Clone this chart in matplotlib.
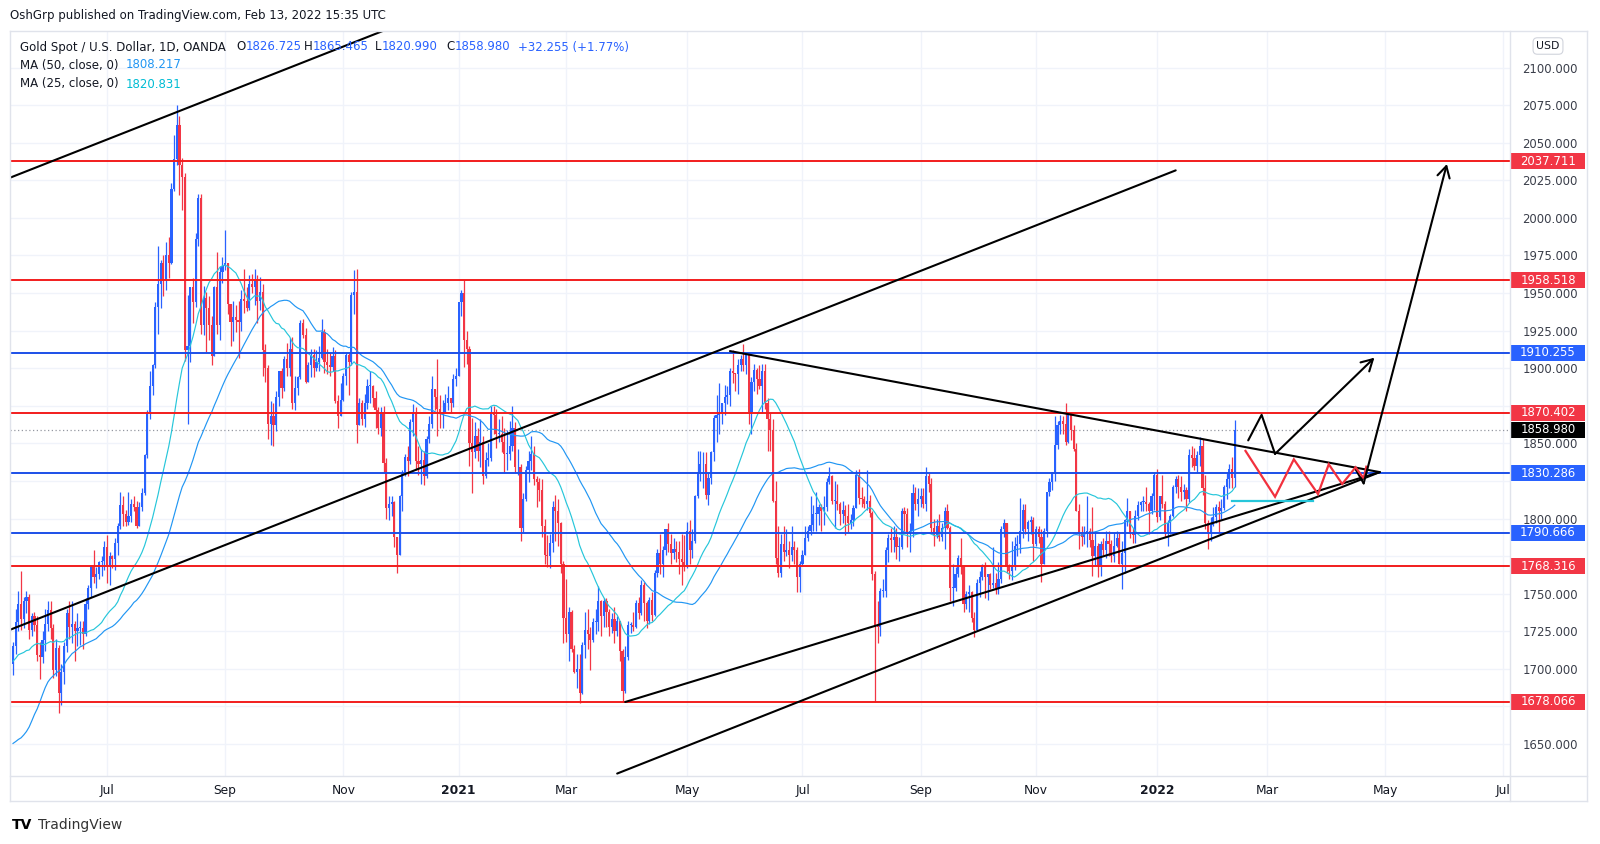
import numpy as np
import pandas as pd
import matplotlib
matplotlib.use('Agg')
import matplotlib.pyplot as plt
import matplotlib.transforms as mtransforms
from matplotlib.patches import Rectangle
from matplotlib.lines import Line2D

plt.rcParams['font.family'] = 'DejaVu Sans'

W, H = 1600, 844

# ============================================================
# Data: XAUUSD daily (OANDA), 2020-05-13 .. 2022-02-11
# open of each bar = previous close
# ============================================================
first_open = 1703.0

closes = [
    1715, 1731, 1743,
    1733, 1745, 1748, 1726, 1735,
    1729, 1709, 1708, 1719, 1730,
    1739, 1727, 1699, 1714, 1684,
    1698, 1715, 1737, 1728, 1730,
    1725, 1727, 1727, 1723, 1743,
    1754, 1768, 1761, 1763, 1771,
    1772, 1781, 1769, 1775, 1773,
    1784, 1795, 1809, 1803, 1798,
    1802, 1810, 1808, 1795, 1808,
    1817, 1842, 1871, 1888, 1902,
    1941, 1956, 1970, 1958, 1975,
    1970, 2019, 2039, 2062, 2035,
    2027, 1912, 1915, 1954, 1944,
    1986, 2013, 1929, 1947, 1940,
    1929, 1908, 1954, 1929, 1964,
    1968, 1970, 1943, 1931, 1934,
    1932, 1931, 1946, 1945, 1940,
    1956, 1954, 1959, 1945, 1951,
    1912, 1900, 1863, 1868, 1862,
    1881, 1898, 1887, 1906, 1900,
    1913, 1877, 1887, 1894, 1930,
    1922, 1891, 1902, 1909, 1900,
    1904, 1907, 1924, 1904, 1902,
    1901, 1908, 1878, 1868, 1879,
    1895, 1909, 1904, 1949, 1951,
    1862, 1877, 1866, 1877, 1888,
    1888, 1880, 1872, 1860, 1871,
    1837, 1807, 1810, 1811, 1788,
    1776, 1815, 1830, 1841, 1838,
    1864, 1871, 1838, 1836, 1839,
    1828, 1853, 1863, 1886, 1881,
    1873, 1870, 1871, 1877,
    1880, 1877, 1893, 1895,
    # 2021
    1944, 1950, 1919, 1913, 1850,
    1844, 1855, 1845, 1851, 1828,
    1839, 1840, 1871, 1869, 1856,
    1856, 1851, 1843, 1843, 1848,
    1860, 1834, 1834, 1794, 1813,
    1832, 1838, 1843, 1826, 1824,
    1819, 1795, 1776, 1775, 1784,
    1808, 1805, 1797, 1770, 1734,
    1723, 1738, 1713, 1698, 1700,
    1684, 1716, 1726, 1723, 1719,
    1731, 1731, 1745, 1735, 1745,
    1738, 1728, 1733, 1725, 1732,
    1712, 1685, 1708, 1729, 1729,
    1728, 1744, 1737, 1756, 1744,
    1732, 1746, 1736, 1764, 1777,
    1770, 1779, 1793, 1783, 1777,
    1780, 1778, 1773, 1771, 1769,
    1792, 1779, 1785, 1815, 1831,
    1836, 1836, 1816, 1827, 1844,
    1867, 1869, 1870, 1877, 1881,
    1882, 1898, 1897, 1896, 1902,
    1906, 1902, 1909, 1871, 1891,
    1899, 1893, 1888, 1898, 1877,
    1866, 1859, 1812, 1774, 1764,
    1783, 1778, 1779, 1776, 1781,
    1779, 1761, 1770, 1776, 1787,
    1792, 1796, 1803, 1803, 1808,
    1805, 1808, 1824, 1828, 1812,
    1812, 1810, 1803, 1806, 1802,
    1797, 1799, 1807, 1829, 1814,
    1813, 1810, 1812, 1804, 1763,
    1729, 1728, 1752, 1752, 1779,
    1787, 1786, 1788, 1781, 1781,
    1805, 1803, 1790, 1792, 1817,
    1810, 1813, 1815, 1810, 1828,
    1823, 1794, 1789, 1795, 1788,
    1794, 1805, 1794, 1754, 1754,
    1763, 1774, 1768, 1743, 1750,
    1751, 1734, 1726, 1757, 1761,
    1769, 1761, 1763, 1756, 1757,
    1754, 1760, 1793, 1797, 1768,
    1765, 1769, 1782, 1783, 1792,
    1806, 1793, 1798, 1799, 1783,
    1793, 1788, 1770, 1792, 1818,
    1824, 1831, 1849, 1862, 1865,
    1863, 1851, 1869, 1859, 1846,
    1805, 1790, 1788, 1790, 1792,
    1786, 1775, 1782, 1769, 1783,
    1779, 1785, 1783, 1775, 1782,
    1787, 1770, 1777, 1799, 1805,
    1790, 1789, 1802, 1809, 1811,
    1811, 1810, 1805, 1815, 1829,
    # 2022
    1801, 1815, 1810, 1791, 1797,
    1802, 1821, 1826, 1821, 1818,
    1819, 1813, 1842, 1840, 1835,
    1842, 1848, 1820, 1797, 1791,
    1796, 1801, 1808, 1805, 1807,
    1821, 1826, 1833, 1826.725, 1858.980,
]

highs = [
    1718, 1740, 1752,
    1765, 1748, 1752, 1750, 1737,
    1738, 1735, 1718, 1725, 1740,
    1745, 1745, 1730, 1720, 1716,
    1703, 1718, 1740, 1745, 1745,
    1732, 1737, 1732, 1732, 1747,
    1756, 1769, 1779, 1768, 1772,
    1775, 1785, 1789, 1778, 1776,
    1787, 1797, 1818, 1815, 1806,
    1818, 1813, 1815, 1812, 1811,
    1820, 1843, 1872, 1898, 1903,
    1944, 1981, 1972, 1975, 1984,
    1987, 2023, 2055, 2075, 2068,
    2040, 2030, 1949, 1954, 1960,
    1990, 2016, 2016, 1955, 1951,
    1948, 1935, 1955, 1977, 1968,
    1974, 1992, 1970, 1942, 1945,
    1942, 1945, 1952, 1966, 1954,
    1962, 1963, 1966, 1962, 1961,
    1956, 1916, 1902, 1878, 1877,
    1885, 1898, 1900, 1908, 1917,
    1920, 1921, 1895, 1895, 1932,
    1933, 1927, 1904, 1913, 1913,
    1912, 1915, 1933, 1926, 1913,
    1910, 1914, 1912, 1882, 1890,
    1897, 1911, 1911, 1951, 1965,
    1966, 1880, 1879, 1883, 1893,
    1898, 1889, 1885, 1874, 1874,
    1875, 1840, 1815, 1815, 1812,
    1788, 1816, 1832, 1843, 1848,
    1866, 1876, 1874, 1848, 1846,
    1845, 1855, 1868, 1895, 1886,
    1906, 1882, 1879, 1883,
    1888, 1880, 1896, 1900,
    # 2021
    1944, 1952, 1959, 1925, 1915,
    1867, 1864, 1860, 1866, 1855,
    1844, 1850, 1875, 1875, 1873,
    1866, 1868, 1860, 1859, 1865,
    1875, 1864, 1846, 1836, 1817,
    1835, 1845, 1855, 1848, 1828,
    1827, 1826, 1800, 1789, 1790,
    1812, 1816, 1813, 1798, 1772,
    1760, 1741, 1739, 1716, 1710,
    1710, 1718, 1738, 1740, 1728,
    1734, 1740, 1755, 1746, 1747,
    1747, 1740, 1737, 1741, 1735,
    1731, 1713, 1715, 1732, 1731,
    1738, 1746, 1748, 1759, 1758,
    1745, 1748, 1751, 1766, 1780,
    1790, 1782, 1793, 1797, 1790,
    1787, 1785, 1785, 1790, 1789,
    1798, 1799, 1793, 1816, 1845,
    1845, 1844, 1844, 1830, 1845,
    1869, 1882, 1890, 1877, 1889,
    1888, 1900, 1912, 1897, 1906,
    1909, 1916, 1911, 1909, 1894,
    1903, 1900, 1902, 1903, 1903,
    1880, 1870, 1866, 1825, 1795,
    1790, 1795, 1793, 1785, 1795,
    1785, 1781, 1772, 1779, 1795,
    1795, 1815, 1809, 1818, 1810,
    1810, 1815, 1827, 1834, 1829,
    1825, 1823, 1811, 1812, 1809,
    1810, 1803, 1809, 1832, 1833,
    1821, 1815, 1832, 1816, 1805,
    1765, 1745, 1754, 1760, 1781,
    1790, 1794, 1795, 1794, 1788,
    1807, 1808, 1807, 1797, 1823,
    1821, 1820, 1820, 1820, 1834,
    1830, 1827, 1800, 1800, 1803,
    1797, 1808, 1810, 1795, 1770,
    1768, 1776, 1787, 1769, 1752,
    1756, 1752, 1738, 1760, 1765,
    1770, 1771, 1763, 1764, 1781,
    1764, 1771, 1795, 1800, 1796,
    1770, 1785, 1788, 1789, 1814,
    1810, 1810, 1799, 1802, 1801,
    1795, 1795, 1793, 1794, 1818,
    1827, 1831, 1868, 1865, 1869,
    1868, 1877, 1870, 1871, 1862,
    1850, 1810, 1795, 1795, 1815,
    1794, 1808, 1792, 1784, 1785,
    1787, 1792, 1792, 1786, 1791,
    1792, 1791, 1785, 1800, 1814,
    1805, 1794, 1806, 1812, 1812,
    1815, 1821, 1811, 1817, 1830,
    # 2022
    1833, 1815, 1829, 1812, 1799,
    1803, 1822, 1828, 1829, 1828,
    1823, 1821, 1846, 1848, 1847,
    1845, 1854, 1853, 1829, 1799,
    1801, 1808, 1810, 1812, 1813,
    1822, 1830, 1836, 1841, 1865.465,
]

lows = [
    1696, 1710, 1725,
    1726, 1727, 1737, 1720, 1722,
    1725, 1705, 1693, 1704, 1712,
    1725, 1720, 1694, 1695, 1671,
    1676, 1690, 1711, 1720, 1717,
    1705, 1715, 1716, 1713, 1722,
    1740, 1748, 1757, 1754, 1760,
    1762, 1766, 1757, 1756, 1767,
    1766, 1776, 1793, 1795, 1795,
    1796, 1798, 1805, 1794, 1796,
    1805, 1816, 1840, 1866, 1882,
    1900, 1923, 1940, 1948, 1952,
    1960, 1969, 2018, 2035, 2015,
    2005, 1905, 1863, 1904, 1930,
    1941, 1981, 1923, 1922, 1911,
    1919, 1902, 1911, 1923, 1919,
    1957, 1965, 1936, 1915, 1918,
    1924, 1907, 1925, 1937, 1938,
    1939, 1950, 1942, 1930, 1939,
    1895, 1891, 1853, 1849, 1848,
    1858, 1875, 1880, 1885, 1895,
    1895, 1873, 1872, 1882, 1893,
    1920, 1890, 1891, 1894, 1894,
    1898, 1898, 1906, 1897, 1896,
    1895, 1898, 1877, 1860, 1868,
    1878, 1889, 1882, 1902, 1936,
    1850, 1863, 1862, 1861, 1873,
    1877, 1874, 1860, 1856, 1855,
    1830, 1800, 1799, 1802, 1781,
    1764, 1777, 1805, 1828, 1828,
    1836, 1855, 1832, 1829, 1823,
    1822, 1827, 1850, 1860, 1872,
    1855, 1860, 1860, 1870,
    1872, 1870, 1874, 1888,
    # 2021
    1895, 1935, 1901, 1903, 1835,
    1817, 1840, 1838, 1834, 1823,
    1827, 1835, 1838, 1856, 1847,
    1851, 1844, 1830, 1832, 1839,
    1845, 1830, 1829, 1785, 1791,
    1812, 1824, 1832, 1822, 1808,
    1812, 1788, 1770, 1768, 1767,
    1778, 1785, 1782, 1764, 1717,
    1718, 1705, 1711, 1697, 1687,
    1677, 1683, 1707, 1713, 1699,
    1718, 1723, 1725, 1722, 1728,
    1728, 1722, 1724, 1717, 1722,
    1705, 1678, 1684, 1706, 1724,
    1725, 1727, 1733, 1736, 1732,
    1727, 1730, 1732, 1735, 1761,
    1763, 1761, 1776, 1778, 1770,
    1773, 1771, 1763, 1756, 1765,
    1767, 1770, 1774, 1784, 1814,
    1825, 1820, 1813, 1809, 1823,
    1838, 1851, 1856, 1863, 1869,
    1876, 1875, 1890, 1885, 1883,
    1898, 1898, 1896, 1863, 1856,
    1885, 1883, 1886, 1870, 1873,
    1845, 1845, 1811, 1770, 1761,
    1761, 1772, 1775, 1767, 1772,
    1770, 1751, 1751, 1769, 1776,
    1785, 1789, 1792, 1792, 1796,
    1792, 1796, 1805, 1823, 1810,
    1794, 1806, 1796, 1797, 1789,
    1791, 1793, 1795, 1807, 1810,
    1808, 1807, 1806, 1801, 1759,
    1678, 1717, 1722, 1748, 1748,
    1771, 1778, 1778, 1773, 1772,
    1780, 1792, 1781, 1778, 1788,
    1806, 1802, 1808, 1807, 1805,
    1818, 1791, 1782, 1787, 1785,
    1785, 1780, 1793, 1745, 1742,
    1752, 1761, 1763, 1738, 1740,
    1738, 1731, 1721, 1725, 1748,
    1759, 1747, 1746, 1753, 1754,
    1750, 1750, 1757, 1788, 1764,
    1760, 1759, 1766, 1775, 1777,
    1787, 1790, 1785, 1790, 1772,
    1782, 1784, 1758, 1771, 1788,
    1815, 1819, 1825, 1846, 1856,
    1856, 1849, 1850, 1852, 1845,
    1805, 1780, 1782, 1783, 1781,
    1781, 1762, 1769, 1761, 1762,
    1776, 1774, 1775, 1771, 1771,
    1781, 1770, 1753, 1764, 1795,
    1787, 1784, 1784, 1799, 1805,
    1805, 1805, 1790, 1803, 1806,
    # 2022
    1798, 1799, 1807, 1788, 1782,
    1790, 1801, 1817, 1814, 1812,
    1813, 1805, 1811, 1834, 1832,
    1830, 1835, 1816, 1793, 1780,
    1785, 1795, 1797, 1791, 1800,
    1806, 1813, 1820, 1820, 1820.990,
]

# closes before the first visible bar (Mar 3 .. May 12, 2020), only used by the MAs
warmup_closes = [
    1641, 1636, 1668, 1673,
    1679, 1649, 1635, 1576, 1530,
    1514, 1527, 1477, 1472, 1498,
    1553, 1608, 1611, 1629, 1617,
    1620, 1577, 1591, 1614, 1620,
    1663, 1647, 1646, 1682, 1683,
    1713, 1727, 1717, 1717, 1683,
    1694, 1687, 1714, 1731, 1727,
    1713, 1706, 1713, 1686, 1700,
    1702, 1706, 1685, 1725, 1702,
    1697, 1702,
]

# horizontal levels
levels_red = [2037.711, 1958.518, 1870.402, 1768.316, 1678.066]
levels_blue = [1910.255, 1830.286, 1790.666]
last_price = 1858.980

# drawings (date, price)
line_a = [('2020-05-13', 2027.5), ('2020-09-30', 2097.8)]          # upper channel, infinite
line_b = [('2020-05-13', 1726.8), ('2022-01-12', 2031.6)]          # lower channel
tri_top = [('2021-05-25', 1911.4), ('2022-04-28', 1830.9)]
tri_mid = [('2021-03-31', 1678.0), ('2022-04-28', 1830.9)]
tri_low = [('2021-03-26', 1630.4), ('2022-04-28', 1830.9)]
arrow_small = [('2022-02-18', 1852.0), ('2022-02-25', 1869.0),
               ('2022-03-04', 1843.0), ('2022-04-26', 1907.0)]
arrow_big = [('2022-04-15', 1832.8), ('2022-04-20', 1823.4), ('2022-06-02', 2035.8)]
zigzag = [('2022-02-17', 1845.0), ('2022-03-04', 1814.5), ('2022-03-15', 1839.4),
          ('2022-03-28', 1816.3), ('2022-04-01', 1836.1), ('2022-04-08', 1823.0),
          ('2022-04-15', 1834.1), ('2022-04-20', 1826.8), ('2022-04-21', 1834.5)]
cyan_line = [('2022-02-10', 1811.7), ('2022-03-24', 1811.7)]

# ============================================================
UP = '#2962FF'
DOWN = '#F23645'
RED = '#F21D1D'
BLUE = '#1C4FE8'
TXT = '#131722'

holidays = pd.to_datetime(['2020-12-25', '2021-01-01'])
all_days = pd.bdate_range('2020-05-13', '2022-08-31')
all_days = all_days[~all_days.isin(holidays)]

n = len(closes)
xs = np.arange(n)
c = np.array(closes, float)
o = np.r_[first_open, c[:-1]]
hi = np.maximum(np.array(highs, float), np.maximum(o, c))
lo = np.minimum(np.array(lows, float), np.minimum(o, c))

full = pd.Series(list(warmup_closes) + list(closes), dtype=float)
ma50 = full.rolling(50).mean().values[len(warmup_closes):]
ma25 = full.rolling(25).mean().values[len(warmup_closes):]


def bar(d):
    return all_days.get_loc(pd.Timestamp(d))


def pts(lst):
    return [bar(d) for d, _ in lst], [p for _, p in lst]


fig = plt.figure(figsize=(W / 100, H / 100), dpi=100)
fig.patch.set_facecolor('white')

top_px, bot_px, left_px, right_px = 31, 775.5, 10, 1510
px_per_price = 1.5035
ax = fig.add_axes([left_px / W, 1 - bot_px / H, (right_px - left_px) / W, (bot_px - top_px) / H])
ax.set_xlim(-1.12, 557.5)
ax.set_ylim(1629.1, 2124.3)
for s in ax.spines.values():
    s.set_visible(False)

# grid / ticks
month_idx = [i for i in range(1, len(all_days))
             if all_days[i].month != all_days[i - 1].month and all_days[i].month % 2 == 1]
month_lab = [str(all_days[i].year) if all_days[i].month == 1 else all_days[i].strftime('%b')
             for i in month_idx]
ax.set_xticks(month_idx)
ax.set_xticklabels(month_lab, fontsize=8.8, color=TXT)
for t, lab in zip(ax.get_xticklabels(), month_lab):
    if lab.isdigit():
        t.set_fontweight('bold')

boxed = levels_red + levels_blue + [last_price]
yt = np.arange(1650, 2101, 25)
ax.set_yticks(yt)
# the price scale hides tick labels that sit under a coloured price box
ax.set_yticklabels(['' if min(abs(v - b) for b in boxed) * px_per_price < 12 else '%.3f' % v
                    for v in yt], fontsize=8.4, color='#3a3e4a')
ax.yaxis.tick_right()
ax.tick_params(axis='y', length=0, pad=9)
ax.tick_params(axis='x', length=0, pad=6)
ax.grid(color='#F0F3FA', lw=1.0, zorder=0)
ax.set_axisbelow(True)

# candles
col = np.where(c >= o, UP, DOWN)
ax.vlines(xs, lo, hi, colors=col, lw=0.9, zorder=3)
ax.bar(xs, np.maximum(np.abs(c - o), 0.6), bottom=np.minimum(o, c), width=0.8,
       color=col, lw=0, zorder=3)

# moving averages
ax.plot(xs, ma50, color='#2196F3', lw=0.85, zorder=4)
ax.plot(xs, ma25, color='#26C6DA', lw=0.85, zorder=4)

# levels
ax.axhline(last_price, color='#9598A1', lw=0.9, ls=(0, (1, 2)), zorder=2)
for lv in levels_red:
    ax.axhline(lv, color=RED, lw=1.4, zorder=5)
for lv in levels_blue:
    ax.axhline(lv, color=BLUE, lw=1.4, zorder=5)

# trend lines
kw = dict(color='black', lw=1.5, zorder=6, solid_capstyle='round')
xa, ya = pts(line_a)
ax.axline((xa[0], ya[0]), (xa[1], ya[1]), **kw)
xb, yb = pts(line_b)
slope_b = (yb[1] - yb[0]) / (xb[1] - xb[0])
ax.plot([-2, xb[1]], [yb[0] + slope_b * (-2 - xb[0]), yb[1]], **kw)
for ln in (tri_top, tri_mid, tri_low):
    lx, ly = pts(ln)
    ax.plot(lx, ly, **kw)

# projections
zx, zy = pts(zigzag)
ax.plot(zx, zy, color='#F2303D', lw=1.6, zorder=7, solid_joinstyle='miter')
cx, cy = pts(cyan_line)
ax.plot(cx, cy, color='#26C6DA', lw=1.6, zorder=7)

head = '->,head_length=0.8,head_width=0.45'
for path in (arrow_small, arrow_big):
    px_, py_ = pts(path)
    ax.plot(px_[:-1], py_[:-1], **kw)
    ax.annotate('', xy=(px_[-1], py_[-1]), xytext=(px_[-2], py_[-2]),
                arrowprops=dict(arrowstyle=head, color='black', lw=1.5,
                                shrinkA=0, shrinkB=0), zorder=8)

# price axis labels
trans = mtransforms.blended_transform_factory(ax.transAxes, ax.transData)
box_x0 = (1511 - left_px) / (right_px - left_px)
box_w = 74 / (right_px - left_px)
box_h = 16 / px_per_price
lab_x = (1548 - left_px) / (right_px - left_px)
for lv, fc in ([(v, '#F23645') for v in levels_red] + [(v, '#2962FF') for v in levels_blue]
               + [(last_price, '#000000')]):
    ax.add_patch(Rectangle((box_x0, lv - box_h / 2), box_w, box_h, transform=trans,
                           facecolor=fc, edgecolor='none', clip_on=False, zorder=9))
    ax.text(lab_x, lv, '%.3f' % lv, transform=trans, ha='center', va='center',
            color='white', fontsize=8.4, zorder=10, clip_on=False)

# frame lines
fr = '#E0E3EB'
for (x0, y0, x1, y1) in [(10, 31, 1587, 31), (10, 801, 1587, 801), (10, 31, 10, 801),
                         (1587, 31, 1587, 801), (1510, 31, 1510, 801), (10, 775.5, 1587, 775.5)]:
    fig.add_artist(Line2D([x0 / W, x1 / W], [1 - y0 / H, 1 - y1 / H], color=fr, lw=1.0, zorder=6))
fig.add_artist(Rectangle((1511 / W, 1 - 800 / H), 75 / W, 24 / H, transform=fig.transFigure,
                         facecolor='white', edgecolor='none', zorder=5))

fig.text(1548 / W, 1 - 46 / H, 'USD', ha='center', va='center', fontsize=7.8, color=TXT,
         bbox=dict(boxstyle='round,pad=0.3,rounding_size=0.4', fc='white', ec='#D1D4DC', lw=0.8))

# header / legend
fig.text(10 / W, 1 - 16 / H, 'OshGrp published on TradingView.com, Feb 13, 2022 15:35 UTC',
         ha='left', va='center', fontsize=8.5, color=TXT)
legend_parts = [
    ('Gold Spot / U.S. Dollar, 1D, OANDA', 20, 47, TXT),
    ('O', 236, 47, TXT), ('1826.725', 245.5, 47, UP),
    ('H', 304, 47, TXT), ('1865.465', 313, 47, UP),
    ('L', 375, 47, TXT), ('1820.990', 382, 47, UP),
    ('C', 446, 47, TXT), ('1858.980', 454.5, 47, UP),
    ('+32.255 (+1.77%)', 518, 47, UP),
    ('MA (50, close, 0)', 20, 65, TXT), ('1808.217', 126, 65, '#2196F3'),
    ('MA (25, close, 0)', 20, 84, TXT), ('1820.831', 126, 84, '#00BCD4'),
]
for txt, px, py, colr in legend_parts:
    fig.text(px / W, 1 - py / H, txt, ha='left', va='center', fontsize=8.5, color=colr, zorder=10)

# footer
fig.text(12 / W, 1 - 825 / H, 'TV', ha='left', va='center', fontsize=10, fontweight='bold',
         color='black')
fig.text(38 / W, 1 - 825 / H, 'TradingView', ha='left', va='center', fontsize=10, color='#333333')

fig.savefig('out.png', dpi=100, facecolor='white')
